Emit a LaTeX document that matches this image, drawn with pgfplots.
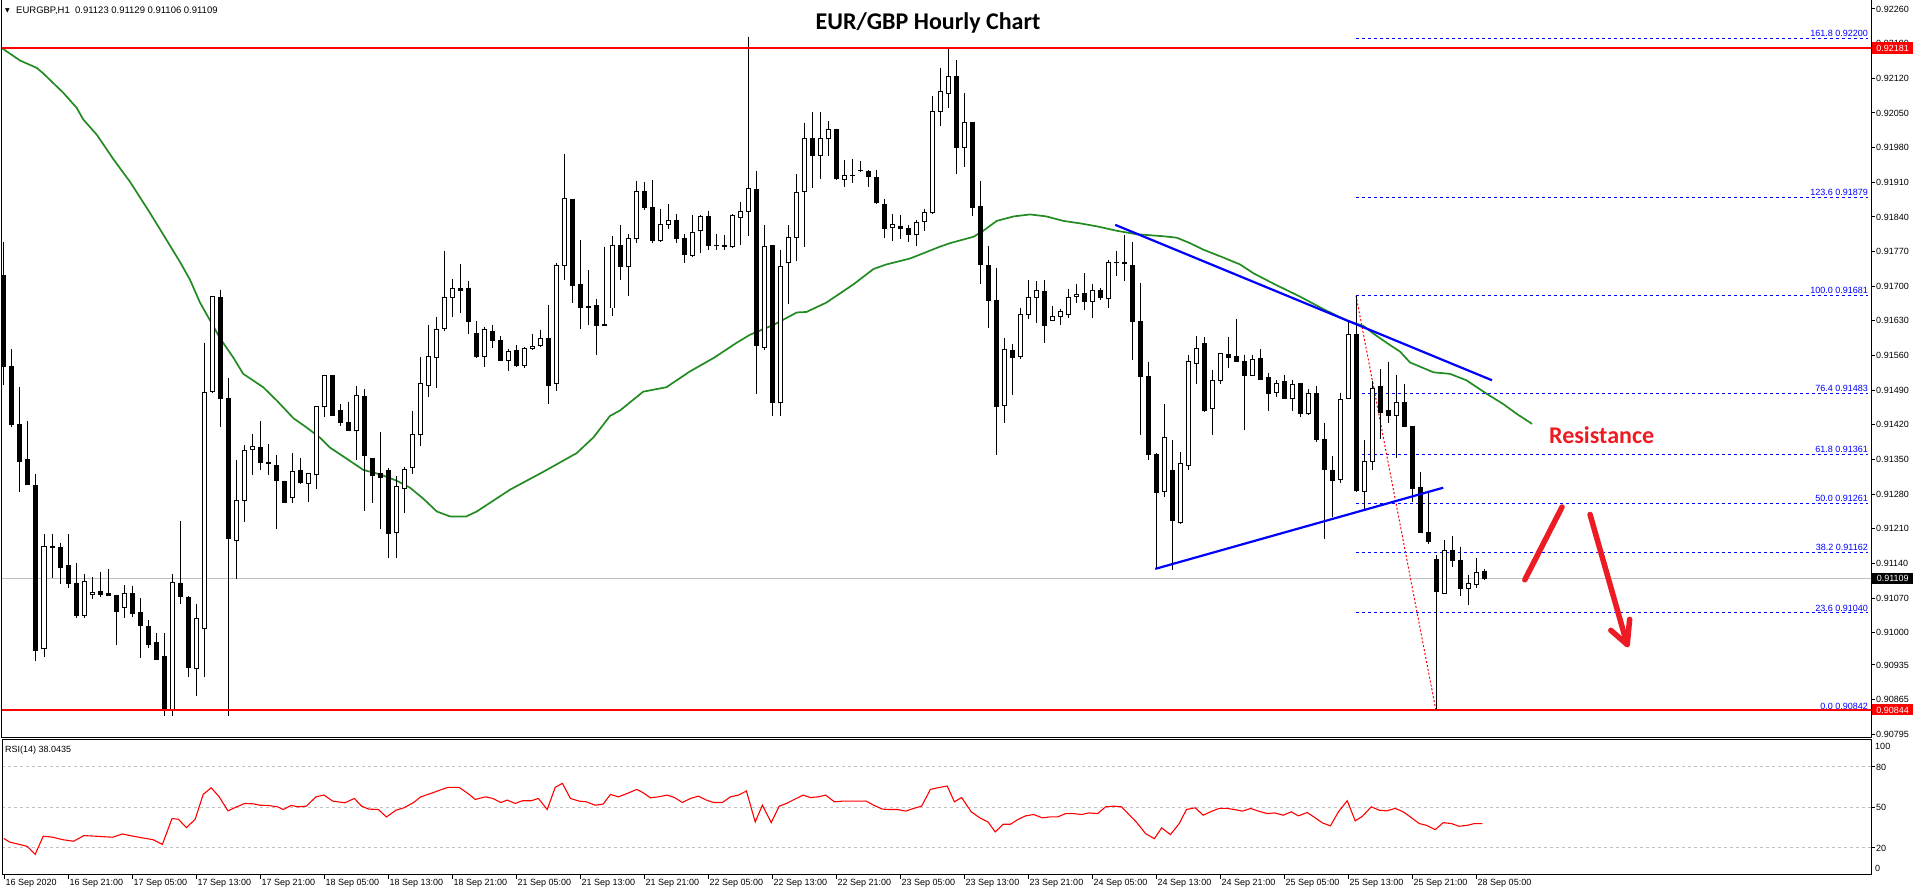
\documentclass[border=0pt]{standalone}
\usepackage{pgfplots}
\pgfplotsset{compat=1.18}
\usepackage{pgfplotstable}
\usepackage{fontspec}
\setmainfont{Liberation Sans}
\newfontfamily\carlito{Carlito}
\newfontfamily\dejavu{DejaVu Sans}
\definecolor{magreen}{RGB}{34,139,34}
\definecolor{annred}{RGB}{237,28,36}
\definecolor{pxgray}{RGB}{192,192,192}
\newcommand\mt{\fontsize{9bp}{10bp}\selectfont}

\pgfplotstableread{
i o h l c
0 0.91722 0.91789 0.91501 0.91537
1 0.91537 0.91573 0.91415 0.91420
2 0.91421 0.91496 0.91284 0.91346
3 0.91349 0.91427 0.91298 0.91300
4 0.91298 0.91320 0.90942 0.90964
5 0.90969 0.91199 0.90951 0.91174
6 0.91174 0.91200 0.91110 0.91173
7 0.91172 0.91182 0.91098 0.91131
8 0.91135 0.91199 0.91090 0.91099
9 0.91099 0.91140 0.91030 0.91035
10 0.91034 0.91119 0.91030 0.91104
11 0.91077 0.91113 0.91068 0.91081
12 0.91083 0.91123 0.91072 0.91077
13 0.91080 0.91129 0.91074 0.91076
14 0.91075 0.91077 0.90976 0.91043
15 0.91052 0.91096 0.91029 0.91080
16 0.91079 0.91095 0.91032 0.91039
17 0.91041 0.91070 0.90949 0.91014
18 0.91012 0.91025 0.90969 0.90976
19 0.90980 0.91000 0.90944 0.90946
20 0.90953 0.91000 0.90831 0.90845
21 0.90845 0.91119 0.90831 0.91102
22 0.91099 0.91226 0.91059 0.91074
23 0.91072 0.91074 0.90910 0.90930
24 0.90928 0.91059 0.90872 0.91029
25 0.91009 0.91586 0.90910 0.91485
26 0.91487 0.91681 0.91485 0.91679
27 0.91678 0.91693 0.91415 0.91474
28 0.91474 0.91514 0.90831 0.91190
29 0.91187 0.91349 0.91108 0.91268
30 0.91268 0.91379 0.91223 0.91368
31 0.91370 0.91401 0.91318 0.91376
32 0.91374 0.91427 0.91328 0.91343
33 0.91343 0.91381 0.91318 0.91341
34 0.91338 0.91359 0.91209 0.91307
35 0.91305 0.91307 0.91262 0.91264
36 0.91273 0.91363 0.91262 0.91325
37 0.91327 0.91352 0.91300 0.91304
38 0.91302 0.91322 0.91264 0.91322
39 0.91319 0.91457 0.91291 0.91457
40 0.91457 0.91521 0.91435 0.91519
41 0.91519 0.91519 0.91438 0.91439
42 0.91448 0.91462 0.91417 0.91424
43 0.91424 0.91467 0.91409 0.91409
44 0.91409 0.91498 0.91349 0.91480
45 0.91478 0.91492 0.91245 0.91359
46 0.91352 0.91352 0.91262 0.91318
47 0.91322 0.91406 0.91210 0.91313
48 0.91328 0.91332 0.91152 0.91200
49 0.91203 0.91316 0.91152 0.91295
50 0.91291 0.91334 0.91241 0.91329
51 0.91334 0.91447 0.91320 0.91401
52 0.91401 0.91557 0.91377 0.91503
53 0.91499 0.91622 0.91476 0.91559
54 0.91556 0.91638 0.91494 0.91613
55 0.91615 0.91771 0.91610 0.91677
56 0.91678 0.91714 0.91638 0.91695
57 0.91695 0.91744 0.91645 0.91692
58 0.91696 0.91711 0.91604 0.91629
59 0.91604 0.91630 0.91555 0.91559
60 0.91559 0.91618 0.91537 0.91612
61 0.91609 0.91622 0.91575 0.91591
62 0.91591 0.91600 0.91548 0.91550
63 0.91550 0.91573 0.91528 0.91568
64 0.91570 0.91582 0.91537 0.91540
65 0.91540 0.91577 0.91535 0.91575
66 0.91575 0.91604 0.91571 0.91579
67 0.91580 0.91612 0.91577 0.91595
68 0.91595 0.91663 0.91463 0.91499
69 0.91503 0.91746 0.91489 0.91742
70 0.91742 0.91967 0.91713 0.91878
71 0.91876 0.91876 0.91666 0.91702
72 0.91704 0.91794 0.91613 0.91657
73 0.91657 0.91732 0.91621 0.91659
74 0.91661 0.91674 0.91562 0.91620
75 0.91620 0.91780 0.91619 0.91622
76 0.91656 0.91801 0.91640 0.91783
77 0.91782 0.91824 0.91713 0.91740
78 0.91740 0.91806 0.91681 0.91796
79 0.91796 0.91913 0.91787 0.91891
80 0.91891 0.91911 0.91854 0.91859
81 0.91860 0.91914 0.91787 0.91792
82 0.91792 0.91857 0.91789 0.91825
83 0.91824 0.91866 0.91816 0.91833
84 0.91833 0.91846 0.91787 0.91796
85 0.91796 0.91805 0.91747 0.91765
86 0.91762 0.91843 0.91760 0.91809
87 0.91812 0.91843 0.91767 0.91841
88 0.91841 0.91852 0.91774 0.91783
89 0.91783 0.91805 0.91774 0.91783
90 0.91783 0.91803 0.91774 0.91781
91 0.91780 0.91846 0.91778 0.91843
92 0.91839 0.91870 0.91783 0.91851
93 0.91851 0.92204 0.91801 0.91898
94 0.91896 0.91932 0.91483 0.91580
95 0.91577 0.91824 0.91571 0.91780
96 0.91782 0.91782 0.91438 0.91465
97 0.91465 0.91773 0.91438 0.91740
98 0.91747 0.91823 0.91665 0.91798
99 0.91798 0.91926 0.91751 0.91890
100 0.91891 0.92030 0.91780 0.91998
101 0.91998 0.92051 0.91898 0.91965
102 0.91965 0.92051 0.91917 0.91998
103 0.91998 0.92033 0.91963 0.92017
104 0.92017 0.92017 0.91915 0.91917
105 0.91915 0.91954 0.91900 0.91923
106 0.91923 0.91956 0.91908 0.91923
107 0.91933 0.91953 0.91931 0.91933
108 0.91932 0.91934 0.91900 0.91922
109 0.91920 0.91934 0.91867 0.91869
110 0.91866 0.91876 0.91798 0.91816
111 0.91819 0.91846 0.91792 0.91824
112 0.91821 0.91843 0.91796 0.91816
113 0.91816 0.91824 0.91789 0.91805
114 0.91805 0.91833 0.91782 0.91828
115 0.91830 0.91857 0.91812 0.91848
116 0.91848 0.92085 0.91845 0.92053
117 0.92053 0.92141 0.92024 0.92093
118 0.92090 0.92179 0.92060 0.92123
119 0.92123 0.92156 0.91927 0.91980
120 0.91980 0.92090 0.91941 0.92031
121 0.92031 0.92031 0.91841 0.91859
122 0.91861 0.91913 0.91704 0.91744
123 0.91742 0.91782 0.91615 0.91672
124 0.91672 0.91737 0.91359 0.91458
125 0.91460 0.91595 0.91424 0.91573
126 0.91571 0.91584 0.91480 0.91557
127 0.91559 0.91657 0.91553 0.91642
128 0.91643 0.91713 0.91634 0.91678
129 0.91678 0.91710 0.91625 0.91692
130 0.91690 0.91713 0.91586 0.91620
131 0.91631 0.91660 0.91629 0.91639
132 0.91639 0.91654 0.91622 0.91648
133 0.91643 0.91695 0.91636 0.91678
134 0.91679 0.91705 0.91666 0.91684
135 0.91686 0.91726 0.91652 0.91669
136 0.91669 0.91705 0.91636 0.91692
137 0.91692 0.91696 0.91672 0.91677
138 0.91675 0.91753 0.91657 0.91747
139 0.91747 0.91771 0.91720 0.91747
140 0.91747 0.91803 0.91711 0.91746
141 0.91742 0.91789 0.91551 0.91629
142 0.91629 0.91706 0.91400 0.91517
143 0.91517 0.91547 0.91349 0.91361
144 0.91361 0.91363 0.91129 0.91284
145 0.91286 0.91462 0.91275 0.91394
146 0.91327 0.91390 0.91126 0.91227
147 0.91223 0.91365 0.91219 0.91341
148 0.91338 0.91561 0.91328 0.91547
149 0.91544 0.91600 0.91503 0.91575
150 0.91584 0.91597 0.91445 0.91448
151 0.91453 0.91530 0.91400 0.91510
152 0.91510 0.91564 0.91503 0.91564
153 0.91562 0.91598 0.91535 0.91555
154 0.91559 0.91633 0.91546 0.91548
155 0.91548 0.91562 0.91409 0.91519
156 0.91520 0.91562 0.91519 0.91552
157 0.91553 0.91573 0.91510 0.91512
158 0.91516 0.91525 0.91447 0.91484
159 0.91485 0.91510 0.91476 0.91503
160 0.91507 0.91521 0.91472 0.91474
161 0.91474 0.91510 0.91447 0.91502
162 0.91503 0.91503 0.91436 0.91442
163 0.91442 0.91492 0.91440 0.91483
164 0.91483 0.91498 0.91386 0.91391
165 0.91390 0.91424 0.91190 0.91329
166 0.91328 0.91358 0.91233 0.91307
167 0.91309 0.91485 0.91302 0.91471
168 0.91474 0.91630 0.91472 0.91603
169 0.91603 0.91681 0.91284 0.91287
170 0.91286 0.91390 0.91250 0.91346
171 0.91346 0.91508 0.91328 0.91494
172 0.91498 0.91532 0.91391 0.91444
173 0.91449 0.91547 0.91424 0.91438
174 0.91439 0.91521 0.91354 0.91466
175 0.91466 0.91503 0.91415 0.91417
176 0.91417 0.91418 0.91264 0.91291
177 0.91293 0.91325 0.91201 0.91203
178 0.91203 0.91282 0.91180 0.91185
179 0.91147 0.91158 0.90842 0.91084
180 0.91080 0.91187 0.91078 0.91167
181 0.91167 0.91196 0.91133 0.91145
182 0.91146 0.91174 0.91075 0.91089
183 0.91089 0.91117 0.91057 0.91099
184 0.91098 0.91151 0.91090 0.91122
185 0.91123 0.91129 0.91106 0.91109
}\candles

\pgfplotsset{candle/.style={only marks, mark=*, mark size=0pt, mark options={draw=none, fill=none}, forget plot}}

\begin{document}
\begin{tikzpicture}
\path[use as bounding box] (0,0) rectangle (1916bp,896bp);
\begin{axis}[
  at={(2bp,158bp)}, anchor=south west,
  scale only axis, width=1869bp, height=738bp,
  xmin=-0.25, xmax=233.375, ymin=0.907874, ymax=0.922782,
  clip=false,
  axis line style={line width=1bp, black},
  xtick=\empty,
  ytick={0.90795,0.90865,0.90935,0.91000,0.91070,0.91140,0.91210,0.91280,0.91350,0.91420,0.91490,0.91560,0.91630,0.91700,0.91770,0.91840,0.91910,0.91980,0.92050,0.92120,0.92190,0.92260},
  yticklabels={0.90795,0.90865,0.90935,0.91000,0.91070,0.91140,0.91210,0.91280,0.91350,0.91420,0.91490,0.91560,0.91630,0.91700,0.91770,0.91840,0.91910,0.91980,0.92050,0.92120,0.92190,0.92260},
  ytick pos=right, yticklabel pos=right,
  tick align=outside, major tick length=4bp,
  tick style={black, line width=1bp},
  yticklabel style={font=\mt, anchor=west, inner sep=0pt, xshift=1bp},
]
% current price line
\addplot[pxgray, line width=1bp] coordinates {(-0.25,0.91109) (233.375,0.91109)};
% fibonacci levels
\addplot[blue, line width=1bp, dash pattern=on 3bp off 3bp] coordinates {(169,0.92200) (233,0.92200)};
\addplot[blue, line width=1bp, dash pattern=on 3bp off 3bp] coordinates {(169,0.91879) (233,0.91879)};
\addplot[blue, line width=1bp, dash pattern=on 3bp off 3bp] coordinates {(169,0.91681) (233,0.91681)};
\addplot[blue, line width=1bp, dash pattern=on 3bp off 3bp] coordinates {(169,0.91483) (233,0.91483)};
\addplot[blue, line width=1bp, dash pattern=on 3bp off 3bp] coordinates {(169,0.91361) (233,0.91361)};
\addplot[blue, line width=1bp, dash pattern=on 3bp off 3bp] coordinates {(169,0.91261) (233,0.91261)};
\addplot[blue, line width=1bp, dash pattern=on 3bp off 3bp] coordinates {(169,0.91162) (233,0.91162)};
\addplot[blue, line width=1bp, dash pattern=on 3bp off 3bp] coordinates {(169,0.91040) (233,0.91040)};
\addplot[blue, line width=1bp, dash pattern=on 3bp off 3bp] coordinates {(169,0.90842) (233,0.90842)};
\addplot[red, line width=1bp, dash pattern=on 2bp off 2bp] coordinates {(169,0.91681) (179,0.90842)};
% moving average
\addplot[magreen, line width=1.7bp] coordinates {
(-0.17,0.92180) (2,0.92156) (4.1,0.92141) (4.9,0.92130) (7.4,0.92091) (9.1,0.92060) (9.9,0.92037) (11.6,0.92006) (13.7,0.91956) (15.75,0.91911) (18.25,0.91848) (20.3,0.91794) (22,0.91749) (23.25,0.91713) (24.5,0.91667) (25.75,0.91631) (27,0.91595) (28.7,0.91555) (29.9,0.91523) (32.4,0.91496) (34.1,0.91469) (36.2,0.91433) (37.8,0.91415) (39.5,0.91394) (40.75,0.91374) (42.8,0.91352) (44.9,0.91329) (47,0.91320) (49.1,0.91307) (50.75,0.91293) (52.4,0.91271) (54.1,0.91245) (55.75,0.91235) (57.8,0.91235) (59.1,0.91245) (63.25,0.91289) (67.4,0.91325) (71.6,0.91363) (73.7,0.91395) (75.75,0.91438) (77,0.91449) (79.9,0.91487) (82.8,0.91496) (85.75,0.91528) (88.7,0.91555) (91.6,0.91586) (93.25,0.91602) (96.2,0.91622) (99.1,0.91647) (100.3,0.91648) (102.8,0.91667) (106.2,0.91704) (108.7,0.91735) (110.3,0.91744) (113.25,0.91756) (115.3,0.91769) (117,0.91780) (118.25,0.91787) (121.2,0.91800) (122.4,0.91812) (124.1,0.91832) (126.2,0.91841) (128.25,0.91845) (130.3,0.91841) (132.4,0.91832) (134.5,0.91827) (136.6,0.91821) (139.1,0.91812) (141.6,0.91805) (144.9,0.91801) (146.6,0.91798) (148.25,0.91787) (149.9,0.91774) (152.4,0.91758) (154.5,0.91744) (156.2,0.91726) (158.7,0.91705) (162,0.91679) (164.9,0.91654) (167.8,0.91631) (169.9,0.91620) (171.2,0.91604) (172.8,0.91586) (174.5,0.91568) (175.75,0.91546) (178.7,0.91526) (180.75,0.91523) (182.8,0.91510) (185.3,0.91483) (187.4,0.91462) (189.1,0.91442) (191,0.91422)};
% candles: wicks
\addplot[candle, error bars/.cd, y dir=minus, y explicit, error mark=none,
  error bar style={draw=black, line width=1bp}]
  table[x=i, y=h, y error minus expr={\thisrow{h}-\thisrow{l}}] {\candles};
% candles: bodies
\addplot[candle, error bars/.cd, y dir=minus, y explicit, error mark=none,
  error bar style={draw=black, line width=5bp, line cap=butt}]
  table[x=i, y expr={max(\thisrow{o},\thisrow{c})+0.00001}, y error minus expr={abs(\thisrow{o}-\thisrow{c})+0.00002}] {\candles};
% candles: hollow bull bodies
\addplot[candle, error bars/.cd, y dir=minus, y explicit, error mark=none,
  error bar style={draw=white, line width=3bp, line cap=butt}]
  table[x=i, y expr={\thisrow{c}-0.00001}, y error minus expr={max(0,\thisrow{c}-\thisrow{o}-0.00002)}] {\candles};
% trend lines
\addplot[blue, line width=2.2bp] coordinates {(138.9,0.91824) (186,0.91510)};
\addplot[blue, line width=2.2bp] coordinates {(143.9,0.91129) (179.9,0.91293)};
% support / resistance
\addplot[red, line width=2.5bp] coordinates {(-0.25,0.92181) (233.375,0.92181)};
\addplot[red, line width=2.5bp] coordinates {(-0.25,0.90844) (233.375,0.90844)};
% annotations
\draw[annred, line width=5.5bp, line cap=round] (axis cs:190.1,0.91107) -- (axis cs:194.75,0.91254);
\draw[annred, line width=5.5bp, line cap=round] (axis cs:198.25,0.91239) -- (axis cs:202.9,0.90976);
\draw[annred, line width=5.5bp, line cap=round, line join=round] (axis cs:200.85,0.91005) -- (axis cs:202.9,0.90976) -- (axis cs:203.2,0.91027);
\node[anchor=base, inner sep=0pt, text=annred, font=\carlito\bfseries\fontsize{24bp}{28bp}\selectfont] at (axis cs:199.7,0.91382) {Resistance};
\node[anchor=base, inner sep=0pt, text=black, font=\carlito\bfseries\fontsize{24bp}{28bp}\selectfont] at (axis cs:115.5,0.92219) {EUR/GBP Hourly Chart};
% fib labels
\node[anchor=south east, inner xsep=0pt, inner ysep=1.5bp, text=blue, font=\mt] at (axis cs:233,0.92200) {161.8 0.92200};
\node[anchor=south east, inner xsep=0pt, inner ysep=1.5bp, text=blue, font=\mt] at (axis cs:233,0.91879) {123.6 0.91879};
\node[anchor=south east, inner xsep=0pt, inner ysep=1.5bp, text=blue, font=\mt] at (axis cs:233,0.91681) {100.0 0.91681};
\node[anchor=south east, inner xsep=0pt, inner ysep=1.5bp, text=blue, font=\mt] at (axis cs:233,0.91483) {76.4 0.91483};
\node[anchor=south east, inner xsep=0pt, inner ysep=1.5bp, text=blue, font=\mt] at (axis cs:233,0.91361) {61.8 0.91361};
\node[anchor=south east, inner xsep=0pt, inner ysep=1.5bp, text=blue, font=\mt] at (axis cs:233,0.91261) {50.0 0.91261};
\node[anchor=south east, inner xsep=0pt, inner ysep=1.5bp, text=blue, font=\mt] at (axis cs:233,0.91162) {38.2 0.91162};
\node[anchor=south east, inner xsep=0pt, inner ysep=1.5bp, text=blue, font=\mt] at (axis cs:233,0.91040) {23.6 0.91040};
\node[anchor=south east, inner xsep=0pt, inner ysep=1.5bp, text=blue, font=\mt] at (axis cs:233,0.90842) {0.0 0.90842};
% price boxes
\node[anchor=west, fill=red, text=white, font=\mt, minimum width=41bp, minimum height=12bp, inner sep=0pt, xshift=1bp] at (axis cs:233.375,0.92181) {0.92181};
\node[anchor=west, fill=black, text=white, font=\mt, minimum width=41bp, minimum height=11bp, inner sep=0pt, xshift=1bp] at (axis cs:233.375,0.91109) {0.91109};
\node[anchor=west, fill=red, text=white, font=\mt, minimum width=41bp, minimum height=11bp, inner sep=0pt, xshift=1bp] at (axis cs:233.375,0.90844) {0.90844};
\end{axis}

\begin{axis}[
  at={(2bp,21bp)}, anchor=south west,
  scale only axis, width=1869bp, height=135bp,
  xmin=-0.25, xmax=233.375, ymin=0, ymax=100,
  clip=false,
  axis line style={line width=1bp, black},
  xtick={0,8,...,184},
  xticklabels={16 Sep 2020,16 Sep 21:00,17 Sep 05:00,17 Sep 13:00,17 Sep 21:00,18 Sep 05:00,18 Sep 13:00,18 Sep 21:00,21 Sep 05:00,21 Sep 13:00,21 Sep 21:00,22 Sep 05:00,22 Sep 13:00,22 Sep 21:00,23 Sep 05:00,23 Sep 13:00,23 Sep 21:00,24 Sep 05:00,24 Sep 13:00,24 Sep 21:00,25 Sep 05:00,25 Sep 13:00,25 Sep 21:00,28 Sep 05:00},
  xtick pos=bottom, xticklabel pos=bottom,
  ytick={20,50,80}, yticklabels={20,50,80},
  ytick pos=right, yticklabel pos=right,
  tick align=outside, major tick length=4bp,
  tick style={black, line width=1bp},
  ymajorgrids, grid style={pxgray, line width=1bp, dash pattern=on 3bp off 3bp},
  xticklabel style={font=\mt, anchor=north west, inner sep=0pt, xshift=1.5bp},
  yticklabel style={font=\mt, anchor=west, inner sep=0pt, xshift=1bp},
]
\addplot[red, line width=1.1bp] coordinates {
(0,27) (0.7,24.4) (1.9,22.7) (2.9,21.2) (3.9,15.3) (4.9,28.7) (6.1,28) (7.3,26.2) (8.7,25) (10,29.2) (11.5,28.7) (13.6,28) (14.8,30.4) (16,28.9) (17.4,27.4) (18.6,26.2) (19.8,22.7) (21,41.8) (21.8,41.3) (22.8,35.1) (23.9,41.3) (24.9,59.7) (25.9,64.6) (26.9,57.9) (28,47.5) (28.9,50) (30.1,53) (31.2,52.7) (32,51.7) (33,51.5) (34.2,50.5) (34.9,48.5) (35.9,51.5) (36.8,50.5) (37.8,51) (39,57.9) (40,59.2) (41.1,54.7) (42.6,53.5) (43.8,56.7) (44.7,51) (45.6,48.8) (46.8,48.5) (47.8,43) (49,48) (50,49.8) (51.2,53.7) (52.1,57.9) (53.6,60.9) (54.5,62.9) (55.5,64.9) (56.9,64.9) (58.1,59.9) (58.9,56) (60.2,57.9) (61.1,56.7) (62.1,53.7) (62.9,55.5) (63.9,53) (64.8,55) (65.9,55) (66.8,56.7) (67.9,48.5) (68.9,64.9) (69.8,67.9) (70.8,56.7) (71.9,54.7) (72.8,54.2) (73.9,51.7) (74.9,52.5) (75.8,59.7) (76.8,57.9) (77.9,60.4) (79.1,63.4) (79.9,60.9) (80.8,57.2) (81.8,57.9) (82.9,59.2) (83.8,57.4) (84.8,53.7) (85.8,56.7) (86.8,58.4) (87.8,55.5) (88.7,53.7) (89.8,53.7) (90.8,57.9) (91.8,59.2) (92.8,62.2) (93.9,39.3) (94.8,51.7) (95.9,38.8) (96.9,51) (97.8,53) (98.8,56) (99.9,59.2) (100.8,57.4) (101.8,57.9) (102.7,59.2) (103.8,54.2) (104.8,54.7) (107.8,54.7) (108.7,51.7) (109.8,48.8) (110.7,48.5) (111.7,48.5) (112.7,47.3) (113.7,49.3) (114.7,51) (115.8,63.4) (116.7,64.6) (117.9,65.9) (118.8,54.2) (119.7,57.4) (120.9,46.8) (121.9,42.6) (123,39.3) (123.9,31.9) (124.9,37.6) (125.8,37.6) (126.8,41.3) (127.7,43.8) (128.7,44.8) (129.8,42.3) (130.7,43) (131.7,43) (132.7,45.5) (133.7,45.5) (134.7,44.8) (135.6,46) (136.7,45.5) (137.7,50.5) (138.7,51) (139.7,50.5) (140.7,44.3) (141.6,38.8) (142.7,30.6) (143.8,26.9) (144.7,34.9) (145.8,29.9) (146.9,38.1) (147.8,48.5) (148.9,49.8) (149.9,44.3) (151,47.3) (151.9,49.3) (152.9,49.3) (153.8,48.5) (154.8,47.3) (155.8,49.3) (156.8,47.3) (157.9,45.5) (158.8,46) (159.9,44.3) (160.9,46.8) (161.8,43.8) (162.9,46.3) (163.9,42.3) (164.8,38.6) (165.8,36.4) (166.8,46.8) (167.9,55) (168.9,40.1) (169.8,43.5) (170.9,50.5) (171.9,48) (172.8,47.5) (173.9,49.3) (174.9,46.8) (175.8,43) (176.9,38.1) (177.8,36.8) (178.9,33.6) (179.9,38.8) (180.9,38.1) (181.9,36.1) (182.9,36.8) (183.8,38.1) (184.8,38.04)};
\node[anchor=west, inner sep=0pt, font=\mt, xshift=4bp] at (axis cs:233.375,95.5) {100};
\node[anchor=west, inner sep=0pt, font=\mt, xshift=4bp] at (axis cs:233.375,5.2) {0};
\end{axis}

\node[anchor=base west, inner sep=0pt, font=\dejavu\fontsize{6bp}{7bp}\selectfont] at (5bp,883bp) {▼};
\node[anchor=base west, inner sep=0pt, font=\fontsize{9.5bp}{11bp}\selectfont] at (16bp,882bp) {EURGBP,H1\ \ 0.91123 0.91129 0.91106 0.91109};
\node[anchor=base west, inner sep=0pt, font=\mt] at (5bp,143bp) {RSI(14) 38.0435};
\end{tikzpicture}
\end{document}
